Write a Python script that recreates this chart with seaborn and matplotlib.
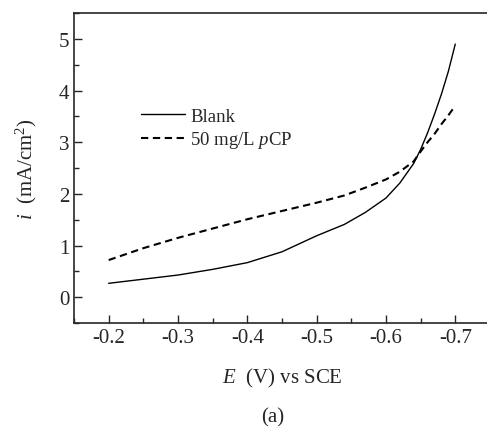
import numpy as np
import pandas as pd
import matplotlib
matplotlib.use("Agg")
import matplotlib.pyplot as plt
import seaborn as sns
from matplotlib.ticker import MultipleLocator

# potential (V vs SCE) and current density (mA/cm2)
potential = [-0.20, -0.25, -0.30, -0.35, -0.40, -0.45, -0.50, -0.54, -0.57,
             -0.60, -0.62, -0.64, -0.65, -0.66, -0.67, -0.68, -0.69, -0.70]
blank = [0.27, 0.35, 0.43, 0.54, 0.67, 0.88, 1.19, 1.41, 1.64,
         1.92, 2.21, 2.59, 2.86, 3.18, 3.54, 3.93, 4.37, 4.90]
pcp = [0.72, 0.95, 1.15, 1.33, 1.51, 1.67, 1.83, 1.97, 2.12,
       2.28, 2.43, 2.63, 2.82, 3.00, 3.16, 3.35, 3.52, 3.71]
series_names = ["Blank", "50 mg/L $\\it{p}$CP"]

sns.set_style("ticks")
plt.rcParams['font.family'] = ['Liberation Serif', 'DejaVu Serif']
plt.rcParams['mathtext.fontset'] = 'custom'
plt.rcParams['mathtext.rm'] = 'Liberation Serif'
plt.rcParams['mathtext.it'] = 'Liberation Serif:italic'
plt.rcParams['axes.unicode_minus'] = False

df = pd.DataFrame({
    'E': potential * 2,
    'i': blank + pcp,
    'Series': [series_names[0]] * len(potential) + [series_names[1]] * len(potential),
})

fig = plt.figure(figsize=(4.87, 4.27), dpi=100)
ax = fig.add_axes([0.152, 0.241, 0.854, 0.726])

sns.lineplot(data=df, x='E', y='i', style='Series', color='black',
             dashes={series_names[0]: '', series_names[1]: (3.5, 2.2)},
             size='Series', sizes={series_names[0]: 1.0, series_names[1]: 1.5},
             ax=ax, sort=False, legend=True)

ax.set_xlim(-0.15, -0.75)
ax.set_ylim(-0.5, 5.5)
ax.xaxis.set_major_locator(MultipleLocator(0.1))
ax.xaxis.set_minor_locator(MultipleLocator(0.05))
ax.yaxis.set_major_locator(MultipleLocator(1))
ax.yaxis.set_minor_locator(MultipleLocator(0.5))
ax.tick_params(which='both', direction='in', top=False, right=False, labelsize=15, width=1)
ax.tick_params(which='major', length=6)
ax.tick_params(which='minor', length=3.5)
ax.spines['right'].set_visible(False)
for s in ['left', 'bottom', 'top']:
    ax.spines[s].set_linewidth(1.2)

ax.set_xlabel('$\\it{E}$  (V) vs SCE', fontsize=15, labelpad=14)
ax.set_ylabel('$\\it{i}$  (mA/cm$^2$)', fontsize=15, labelpad=14)

handles, labels = ax.get_legend_handles_labels()
keep = [k for k, l in enumerate(labels) if l in series_names]
ax.legend([handles[k] for k in keep], [labels[k] for k in keep],
          loc='upper left', bbox_to_anchor=(0.12, 0.75), frameon=False,
          fontsize=13.5, handlelength=2.35, handletextpad=0.3, labelspacing=0.25)

fig.text(0.56, 0.01, '(a)', fontsize=15, ha='center')

fig.savefig('out.png', dpi=100)
